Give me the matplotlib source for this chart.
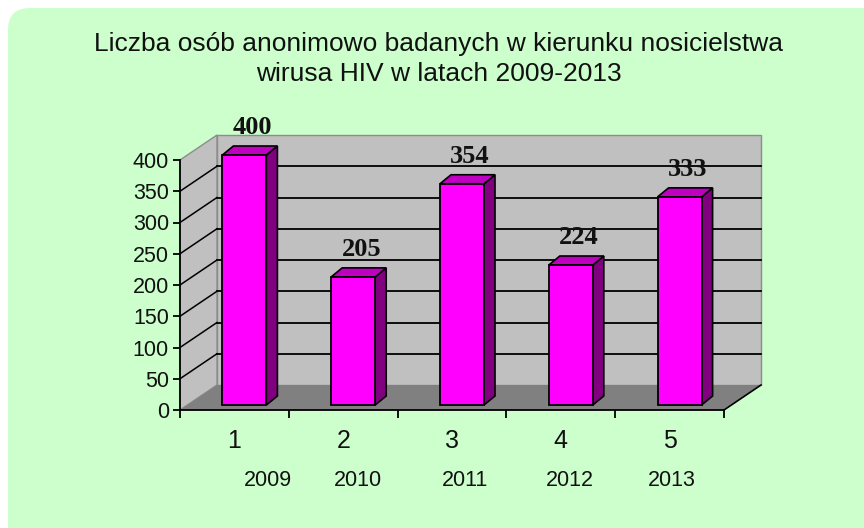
import matplotlib
matplotlib.use("Agg")
import matplotlib.pyplot as plt
from matplotlib.patches import Polygon, FancyBboxPatch

# ---- data ----
categories = [1, 2, 3, 4, 5]
years = ["2009", "2010", "2011", "2012", "2013"]
values = [400, 205, 354, 224, 333]
y_ticks = [0, 50, 100, 150, 200, 250, 300, 350, 400]
title = "Liczba osób anonimowo badanych w kierunku nosicielstwa\nwirusa HIV w latach 2009-2013"

# ---- layout (pixels) ----
W, H = 864, 528
ax_left, ax_right, ax_bottom, ax_top = 180, 724, 410, 160
px_per_cat = (ax_right - ax_left) / 5.0
px_per_val = (ax_bottom - ax_top) / 400.0

def dx(px):
    return px / px_per_cat

def dy(px):
    return px / px_per_val

WALL_DX, WALL_DY = dx(37), dy(25)      # back-plane depth
BAR_DX, BAR_DY = dx(10), dy(5)         # bar plane offset from front
DEP_DX, DEP_DY = dx(11), dy(9)         # bar depth
BAR_W = dx(44)
year_label_x = [1.31, 2.14, 3.12, 4.08, 5.02]   # layout positions of year row

fig = plt.figure(figsize=(W / 100, H / 100), dpi=100)
fig.patch.set_facecolor("white")

# background rounded box
bg = fig.add_axes([0, 0, 1, 1])
bg.set_xlim(0, W)
bg.set_ylim(H, 0)
bg.axis("off")
bg.add_patch(FancyBboxPatch((8, 8), 900, 600, boxstyle="round,pad=0,rounding_size=22",
                            facecolor="#CCFFCC", edgecolor="none"))
for i, line in enumerate(title.split("\n")):
    bg.text(439, 44 + 30 * i, line, ha="center", va="center", fontsize=19,
            family="Liberation Sans", color="#111111")

ax = fig.add_axes([ax_left / W, (H - ax_bottom) / H,
                   (ax_right - ax_left) / W, (ax_bottom - ax_top) / H])
ax.set_xlim(0.5, 5.5)
ax.set_ylim(0, 400)
ax.patch.set_visible(False)
for s in ["top", "right"]:
    ax.spines[s].set_visible(False)
for s in ["left", "bottom"]:
    ax.spines[s].set_color("black")
    ax.spines[s].set_linewidth(1.3)
    ax.spines[s].set_zorder(10)

x0, x1 = 0.5, 5.5
# back wall
ax.add_patch(Polygon([(x0 + WALL_DX, WALL_DY), (x1 + WALL_DX, WALL_DY),
                      (x1 + WALL_DX, 400 + WALL_DY), (x0 + WALL_DX, 400 + WALL_DY)],
                     closed=True, facecolor="#C0C0C0", edgecolor="#8C8C8C",
                     lw=1, clip_on=False, zorder=1))
# side wall
ax.add_patch(Polygon([(x0, 0), (x0 + WALL_DX, WALL_DY), (x0 + WALL_DX, 400 + WALL_DY), (x0, 400)],
                     closed=True, facecolor="#C0C0C0", edgecolor="#8C8C8C",
                     lw=1, clip_on=False, zorder=1))
# floor
ax.add_patch(Polygon([(x0, 0), (x1, 0), (x1 + WALL_DX, WALL_DY), (x0 + WALL_DX, WALL_DY)],
                     closed=True, facecolor="#808080", edgecolor="none",
                     clip_on=False, zorder=2))
ax.plot([x1, x1 + WALL_DX], [0, WALL_DY], color="black", lw=1.2, clip_on=False, zorder=3)

# gridlines
for v in y_ticks[1:-1]:
    ax.plot([x0 + WALL_DX, x1 + WALL_DX], [v + WALL_DY, v + WALL_DY], color="black",
            lw=1.3, clip_on=False, zorder=3)
    ax.plot([x0, x0 + WALL_DX], [v, v + WALL_DY], color="black",
            lw=1.1, clip_on=False, zorder=3)

# bars
for c, v in zip(categories, values):
    bx0 = c - BAR_W / 2 + BAR_DX
    bx1 = c + BAR_W / 2 + BAR_DX
    b0 = BAR_DY
    top = v + BAR_DY
    ax.add_patch(Polygon([(bx1, b0), (bx1 + DEP_DX, b0 + DEP_DY),
                          (bx1 + DEP_DX, top + DEP_DY), (bx1, top)],
                         closed=True, facecolor="#800080", edgecolor="black",
                         lw=1.2, clip_on=False, zorder=5))
    ax.add_patch(Polygon([(bx0, top), (bx1, top), (bx1 + DEP_DX, top + DEP_DY),
                          (bx0 + DEP_DX, top + DEP_DY)],
                         closed=True, facecolor="#C000C0", edgecolor="black",
                         lw=1.2, clip_on=False, zorder=5))
    ax.bar(c + BAR_DX, v, bottom=b0, width=BAR_W, color="#FF00FF",
           edgecolor="black", linewidth=1.3, zorder=6, clip_on=False)
    ax.text(c + BAR_DX + dx(8), top + DEP_DY + dy(7), str(v),
            ha="center", va="bottom", fontsize=19, fontweight="bold",
            family="Liberation Serif", color="#111111", zorder=7)

# axes ticks
ax.set_yticks(y_ticks)
ax.set_yticklabels([str(t) for t in y_ticks], fontsize=15.5, family="Liberation Sans",
                   color="#111111")
ax.tick_params(axis="y", direction="out", length=5, width=1.3, pad=3)
ax.set_xticks([0.5, 1.5, 2.5, 3.5, 4.5, 5.5])
ax.set_xticklabels([])
ax.set_xticks(categories, minor=True)
ax.set_xticklabels([str(c) for c in categories], minor=True, fontsize=18,
                   family="Liberation Sans", color="#111111")
ax.tick_params(axis="x", which="major", direction="out", length=6, width=1.3)
ax.tick_params(axis="x", which="minor", length=0, pad=14)

for xp, yr in zip(year_label_x, years):
    ax.annotate(yr, xy=(xp, 0), xycoords="data", xytext=(0, -70),
                textcoords="offset pixels", ha="center", va="center",
                fontsize=15.5, family="Liberation Sans", color="#111111",
                annotation_clip=False)

fig.savefig("out.png", dpi=100, facecolor="white")
